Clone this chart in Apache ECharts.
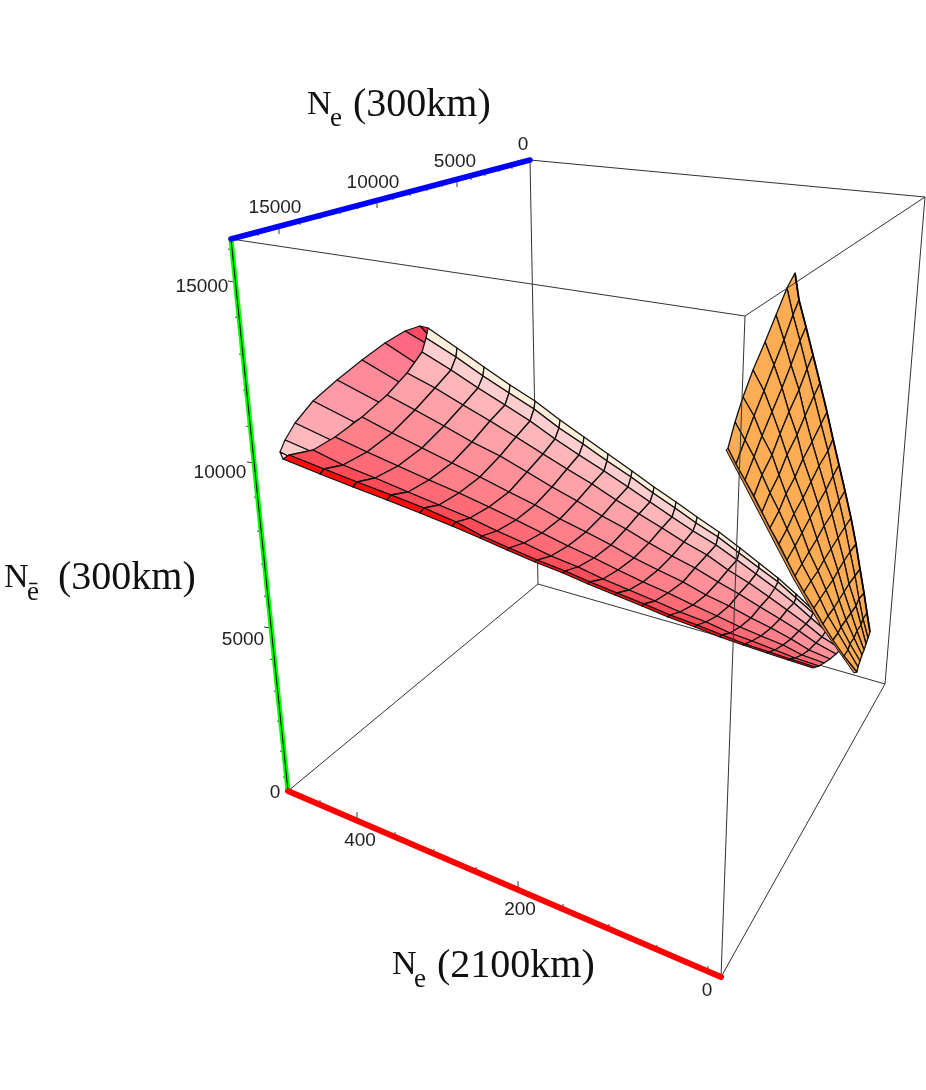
<!DOCTYPE html>
<html>
<head>
<meta charset="utf-8">
<style>html,body{margin:0;padding:0;background:#fff}#c{width:926px;height:1090px}</style>
<script src="https://cdn.jsdelivr.net/npm/echarts@6/dist/echarts.min.js"></script>
</head>
<body>
<div id="c"></div>
<script>
// Wireframe box edges
const boxBack = [
  [[530,160],[925,197]], [[925,197],[885,684]], [[530,160],[538,584]],
  [[538,584],[885,684]], [[538,584],[288,791]], [[231,239],[745,316]]
];
const boxFront = [
  [[745,316],[925,197]], [[745,316],[721,977]], [[721,977],[885,684]]
];
const blueAxis = [[231,239],[530,160]];
const greenAxis = [[231,239],[288,791]];
const redAxis = [[288,791],[721,977]];

// Ticks on the axes: x, y, major(1)/minor(0)
const blueTicks = [[512,165,0],[499,168,0],[485,172,0],[471,176,0],[457,179,1],[442,183,0],[427,187,0],[410,192,0],[393,196,0],[377,200,1],[358,205,0],[340,210,0],[320,215,0],[300,221,0],[279,226,1],[258,232,0]];
const greenTicks = [[232,250,0],[235,282,1],[239,318,0],[243,355,0],[247,391,0],[250,427,0],[254,463,1],[258,498,0],[261,532,0],[265,565,0],[268,597,0],[271,628,1],[274,660,0],[278,692,0],[281,722,0],[284,752,0],[287,778,0]];
const redTicks = [[320,805,0],[357,821,1],[395,837,0],[434,854,0],[476,872,0],[518,890,1],[563,909,0],[609,929,0],[657,950,0],[708,971,0]];

// Tick labels
const blueLabels = ['0','5000','10000','15000'];
const blueLabelPos = [[523,145],[455,162],[373,183],[275,208]];
const greenLabels = ['15000','10000','5000','0'];
const greenLabelPos = [[202,287],[220,473],[243,640],[275,793]];
const redLabels = ['400','200','0'];
const redLabelPos = [[360,841],[520,910],[707,991]];

// Axis titles
const titleN = ['N','N','N'];
const titleNPos = [[307,105],[4,578],[392,965]];
const titleUnits = ['(300km)','(300km)','(2100km)'];
const titleUnitsPos = [[353,105],[58,578],[437,966]];
const titleSub = ['e','ē','e'];
const titleSubPos = [[330,119],[27,593],[414,980]];

// Inside of the open end of the cone
const coneBackRim = [[428,328],[420,326],[405,331],[385,343],[362,360],[337,380],[313,401],[295,423],[285,440],[280,452],[283,459]];
const coneInnerEnd = [[430,332],[431,338],[432,347],[420,366],[404,385],[384,405],[354,422],[335,442],[317,454],[300,462],[300,463]];
const coneInnerColors = ['#ff1f3c','#ff4a68','#ff6a82','#ff7f90','#ff8a9a','#ff9aa6','#ffa8b0','#ffb8bc','#ffcccc','#ffd8d8'];

// Cone surface: one row per transverse arc, from its top edge to its bottom edge
const coneArcs = [
  [[428,328],[426,338],[422,352],[407,373],[387,395],[362,417],[335,437],[313,450],[289,455],[283,459]],
  [[457,348],[456,357],[451,370],[435,388],[415,410],[392,433],[367,452],[343,465],[324,469],[320,474]],
  [[484,367],[483,376],[478,388],[463,405],[444,426],[422,448],[398,466],[375,478],[357,482],[353,487]],
  [[510,385],[509,393],[505,405],[490,421],[472,442],[452,463],[429,480],[408,492],[391,495],[387,500]],
  [[535,401],[534,409],[530,421],[516,437],[500,456],[480,477],[459,493],[439,505],[424,508],[420,513]],
  [[560,420],[559,428],[555,439],[543,454],[527,472],[509,492],[489,507],[470,518],[456,522],[452,526]],
  [[584,437],[583,444],[579,455],[567,469],[552,487],[535,505],[516,520],[497,531],[482,536],[480,538]],
  [[608,454],[607,461],[604,471],[592,484],[577,501],[560,519],[542,533],[524,543],[509,548],[507,550]],
  [[632,471],[631,477],[628,487],[616,500],[602,516],[586,532],[568,546],[551,556],[537,560],[535,562]],
  [[654,487],[653,493],[650,502],[639,514],[626,529],[611,545],[594,558],[578,567],[565,571],[563,573]],
  [[676,502],[675,508],[672,517],[662,528],[649,543],[634,558],[618,570],[603,579],[590,582],[588,584]],
  [[697,517],[696,523],[693,531],[684,542],[672,556],[658,570],[643,582],[629,590],[617,593],[615,595]],
  [[719,532],[718,537],[716,545],[707,555],[695,568],[683,582],[668,593],[655,601],[644,604],[642,606]],
  [[740,548],[739,553],[737,560],[728,570],[718,582],[706,595],[693,605],[680,612],[670,615],[668,617]],
  [[759,563],[759,568],[756,574],[749,583],[739,594],[729,606],[717,616],[706,622],[697,625],[695,627]],
  [[778,578],[778,582],[775,588],[769,597],[760,607],[751,618],[740,627],[730,633],[722,635],[720,637]],
  [[796,594],[796,598],[794,603],[787,610],[780,619],[771,628],[761,636],[752,641],[745,644],[743,645]],
  [[813,610],[813,613],[811,618],[806,624],[799,631],[791,639],[783,645],[775,650],[769,652],[767,653]],
  [[828,625],[828,628],[826,631],[822,637],[816,643],[809,650],[802,655],[795,658],[790,659],[788,660]],
  [[846,640],[846,642],[845,645],[841,649],[836,654],[830,659],[824,663],[819,666],[815,667],[813,668]]
];
const coneStripColors = ['#fff0dc','#ffcfcf','#ffb6b8','#ffa2a8','#ff9099','#ff8088','#ff6c76','#ff4e5a','#ff0c0c'];

// Orange sheet: one row per line crossing from its right edge to its lower-left edge
const sheetRows = [
  [[795,273],[787,288],[776,315],[765,342],[753,370],[743,397],[735,422],[728,448]],
  [[799,300],[793,315],[784,340],[774,365],[764,391],[754,416],[745,440],[736,464]],
  [[806,327],[800,341],[791,365],[782,388],[772,412],[762,436],[754,457],[745,480]],
  [[813,355],[807,369],[799,390],[789,412],[780,434],[772,455],[762,475],[754,496]],
  [[820,383],[814,396],[805,416],[797,435],[787,455],[779,475],[770,493],[762,512]],
  [[827,412],[821,424],[812,442],[803,459],[795,477],[786,494],[779,511],[770,528]],
  [[833,439],[828,451],[819,466],[811,482],[803,498],[794,514],[787,529],[779,544]],
  [[839,465],[833,476],[826,490],[818,504],[810,518],[802,533],[795,546],[787,560]],
  [[845,491],[839,501],[832,514],[824,526],[817,539],[809,552],[802,564],[795,576]],
  [[851,518],[845,527],[838,538],[831,549],[824,560],[818,571],[811,581],[804,592]],
  [[856,544],[850,552],[844,561],[838,571],[833,580],[826,590],[820,599],[814,608]],
  [[860,569],[855,576],[849,584],[844,592],[839,600],[834,608],[828,616],[823,624]],
  [[864,593],[859,599],[856,606],[851,613],[846,620],[841,627],[838,633],[833,640]],
  [[867,613],[863,619],[861,625],[857,631],[854,638],[850,644],[848,650],[844,656]],
  [[870,632],[868,638],[866,644],[864,650],[862,655],[860,661],[858,667],[857,672]]
];
const sheetFold = [[728,448],[745,480],[770,528],[795,576],[823,624],[857,672],[854,673],[821,626],[793,578],[768,530],[743,482],[726,450]];
const sheetColor = '#ffad55';
const sheetFoldColor = '#d9843a';

// ---- series construction ----
function addPoly(bucket, pts, fill, stroke, width) { bucket.push({pts, fill, stroke, width}); }

const innerPolys = [];
for (let k = 0; k < coneBackRim.length - 1; k++) {
  addPoly(innerPolys, [coneBackRim[k], coneBackRim[k+1], coneInnerEnd[k+1], coneInnerEnd[k]], coneInnerColors[k], '#111111', 1.2);
}
const outerPolys = [];
for (let i = 0; i < coneArcs.length - 1; i++) {
  for (let j = 0; j < coneArcs[i].length - 1; j++) {
    addPoly(outerPolys, [coneArcs[i][j], coneArcs[i][j+1], coneArcs[i+1][j+1], coneArcs[i+1][j]], coneStripColors[j], '#111111', 1.3);
  }
}
const sheetPolys = [];
addPoly(sheetPolys, sheetFold, sheetFoldColor, '#111111', 1);
for (let i = 0; i < sheetRows.length - 1; i++) {
  for (let j = 0; j < sheetRows[i].length - 1; j++) {
    addPoly(sheetPolys, [sheetRows[i][j], sheetRows[i][j+1], sheetRows[i+1][j+1], sheetRows[i+1][j]], sheetColor, '#111111', 1.3);
  }
}

function polySeries(list, z) {
  return {
    type: 'custom', coordinateSystem: 'cartesian2d', z, clip: false, silent: true,
    data: list.map((p, i) => [p.pts[0][0], p.pts[0][1], i]),
    renderItem(params, api) {
      const p = list[params.dataIndex];
      return { type: 'polygon',
        shape: { points: p.pts.map(q => api.coord(q)) },
        style: { fill: p.fill, stroke: p.stroke, lineWidth: p.width, lineJoin: 'round' } };
    }
  };
}
function lineSeries(segs, color, width, z, cap) {
  return {
    type: 'custom', coordinateSystem: 'cartesian2d', z, clip: false, silent: true,
    data: segs.map((s, i) => [s[0][0], s[0][1], i]),
    renderItem(params, api) {
      const s = segs[params.dataIndex];
      return { type: 'polyline', shape: { points: s.map(q => api.coord(q)) },
        style: { fill: null, stroke: color, lineWidth: width, lineCap: cap || 'butt', lineJoin: 'round' } };
    }
  };
}
function tickSegs(ticks, major, minor) {
  return ticks.map(t => {
    const d = t[2] ? major : minor;
    return [[t[0], t[1]], [t[0] + d[0], t[1] + d[1]]];
  });
}
function textSeries(labels, pos, font, fill, align, z) {
  return {
    type: 'custom', coordinateSystem: 'cartesian2d', z, clip: false, silent: true,
    data: labels.map((l, i) => [pos[i][0], pos[i][1], i]),
    renderItem(params, api) {
      const c = api.coord([pos[params.dataIndex][0], pos[params.dataIndex][1]]);
      return { type: 'text', style: { x: c[0], y: c[1], text: labels[params.dataIndex], font, fill, align, verticalAlign: 'middle' } };
    }
  };
}

const chart = echarts.init(document.getElementById('c'), null, { renderer: 'canvas' });
const tickFont = '19px "Liberation Sans"';
chart.setOption({
  animation: false,
  backgroundColor: '#ffffff',
  grid: { left: 0, right: 0, top: 0, bottom: 0, containLabel: false },
  xAxis: { type: 'value', min: 0, max: 926, show: false },
  yAxis: { type: 'value', min: 0, max: 1090, inverse: true, show: false },
  series: [
    lineSeries(boxBack, '#333333', 1, 1),
    polySeries(innerPolys, 2),
    polySeries(outerPolys, 3),
    polySeries(sheetPolys, 4),
    lineSeries(boxFront, '#333333', 1, 5),
    lineSeries([sheetRows.map(r => r[0])], '#000000', 1.8, 5),
    lineSeries(tickSegs(blueTicks, [0, 8], [0, 4]), '#222222', 0.9, 6),
    lineSeries(tickSegs(greenTicks, [-7, -1], [-4, -1]), '#222222', 0.9, 6),
    lineSeries(tickSegs(redTicks, [0, -9], [0, -5]), '#222222', 0.9, 6),
    lineSeries([greenAxis], '#00ff00', 5, 7),
    lineSeries([greenAxis], '#000000', 1, 8),
    lineSeries([blueAxis], '#0000ff', 5.5, 9, 'round'),
    lineSeries([redAxis], '#ff0000', 6, 9, 'round'),
    textSeries(blueLabels, blueLabelPos, tickFont, '#222222', 'center', 10),
    textSeries(greenLabels, greenLabelPos, tickFont, '#222222', 'center', 10),
    textSeries(redLabels, redLabelPos, tickFont, '#222222', 'center', 10),
    textSeries(titleN, titleNPos, '34px "Liberation Serif"', '#111111', 'left', 10),
    textSeries(titleUnits, titleUnitsPos, '40px "Liberation Serif"', '#111111', 'left', 10),
    textSeries(titleSub, titleSubPos, '27px "Liberation Serif"', '#111111', 'left', 10)
  ]
});
</script>
</body>
</html>
